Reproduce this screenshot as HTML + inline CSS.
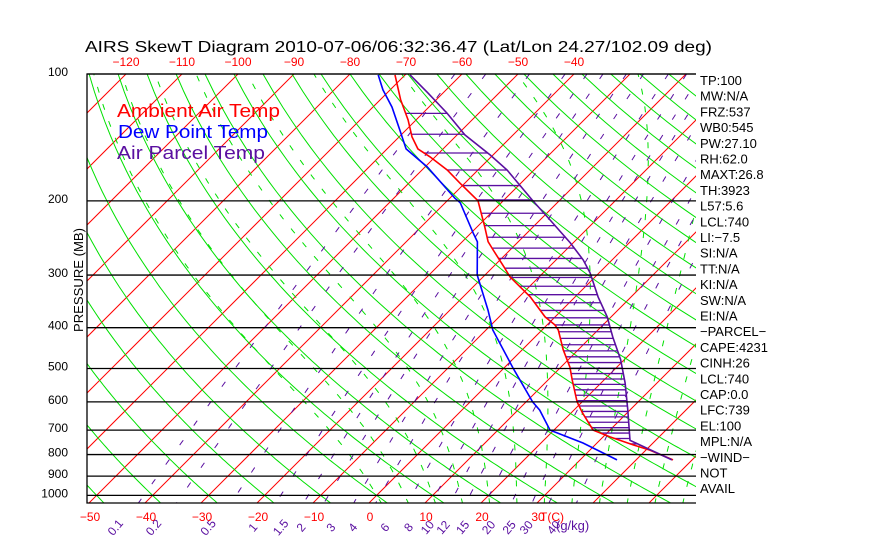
<!DOCTYPE html>
<html><head><meta charset="utf-8"><style>
html,body{margin:0;padding:0;background:#fff;}
svg{display:block;font-family:"Liberation Sans",sans-serif;}
</style></head><body>
<svg id="chart" width="870" height="560" viewBox="0 0 870 560" xmlns="http://www.w3.org/2000/svg">
<defs><clipPath id="plotclip"><rect x="87" y="74" width="609" height="429"/></clipPath></defs>
<rect width="870" height="560" fill="#fff"/>
<text x="85" y="52" font-size="16" textLength="627" lengthAdjust="spacingAndGlyphs" fill="#000">AIRS SkewT Diagram 2010-07-06/06:32:36.47 (Lat/Lon 24.27/102.09 deg)</text>
<g id="bg" clip-path="url(#plotclip)"></g>
<g id="hatch" clip-path="url(#plotclip)"></g>
<g id="profiles" clip-path="url(#plotclip)"></g>
<g id="axes"></g>
<text x="117" y="117" font-size="18" fill="#ff0000" textLength="163" lengthAdjust="spacingAndGlyphs">Ambient Air Temp</text>
<text x="118" y="138" font-size="18" fill="#0000ff" textLength="150" lengthAdjust="spacingAndGlyphs">Dew Point Temp</text>
<text x="117" y="159" font-size="18" fill="#5a0fa0" textLength="148" lengthAdjust="spacingAndGlyphs">Air Parcel Temp</text>
<text transform="translate(83,280) rotate(-90)" text-anchor="middle" font-size="13" textLength="104" lengthAdjust="spacingAndGlyphs">PRESSURE (MB)</text>
<g id="stats"></g>
</svg>
<script>
// ---- data ----
const pressureLevels = [100,200,300,400,500,600,700,800,900,1000];
const topTempTicks = [-120,-110,-100,-90,-80,-70,-60,-50,-40];
const bottomTempTicks = [-50,-40,-30,-20,-10,0,10,20,30];
const mixingRatios = [0.1,0.2,0.5,1,1.5,2,3,4,6,8,10,12,15,20,25,30,40];
const mixingLabels = ["0.1","0.2","0.5","1","1.5","2","3","4","6","8","10","12","15","20","25","30","40"];
const envP = [100.5,115,128.6,141,150.6,157.3,169,181.5,200,230.8,250,261.6,288.9,303,338,377,394,405,451,496,532,600,638,700,727,759,781,824];
const envT = [-71.8,-66.4,-61.4,-57.7,-54.5,-50.9,-45.5,-40.9,-34.5,-28.6,-25.4,-23.0,-17.7,-15.2,-8.0,-1.8,1.4,2.9,7.3,11.6,14.3,19.1,22.1,27.0,31.3,36.8,40.7,46.6];
const dewP = [100.5,109,119.8,135.8,150.6,166.2,197.1,202.2,238.5,250.1,299.9,363.3,405,498.5,600.4,627.6,700,751,824];
const dewT = [-74.8,-71.3,-66.6,-61.1,-56.6,-49.6,-39.1,-37.3,-29.6,-27.3,-21.4,-13.2,-8.8,1.6,11.2,13.9,19.3,27.5,36.6];
const parP = [100.5,110.9,123.8,139.5,155.7,169,199,222.1,251.7,276,296.5,338,377,421,476,541,627,740,824];
const parT = [-69.1,-62.7,-55.7,-48.6,-40.5,-34.8,-25,-18.2,-10.5,-5.2,-1.6,4.1,9.3,13.9,19.3,24.3,29.6,35.4,46.4];
const statLabels = ["TP:100","MW:N/A","FRZ:537","WB0:545","PW:27.10","RH:62.0","MAXT:26.8","TH:3923","L57:5.6","LCL:740","LI:\u22127.5","SI:N/A","TT:N/A","KI:N/A","SW:N/A","EI:N/A","\u2212PARCEL\u2212","CAPE:4231","CINH:26","LCL:740","CAP:0.0","LFC:739","EL:100","MPL:N/A","\u2212WIND\u2212","NOT","AVAIL"];

// ---- axes ----
const NS="http://www.w3.org/2000/svg";
const X0=369, YB=503, K=183, DX=5.6, LEFT=87, RIGHT=696, TOP=74;
function yOf(p){return TOP+K*Math.log(p/100);}
function xOf(t,p){const y=yOf(p);return X0+DX*t+(YB-y);}
function mk(tag,attrs,parent){const e=document.createElementNS(NS,tag);for(const k in attrs)e.setAttribute(k,attrs[k]);parent.appendChild(e);return e;}
function pathFrom(pts){return pts.map((q,i)=>(i?'L':'M')+q[0].toFixed(1)+','+q[1].toFixed(1)).join('');}
const bg=document.getElementById('bg'),axes=document.getElementById('axes'),prof=document.getElementById('profiles'),hatch=document.getElementById('hatch');

// isotherms
for(let t=-140;t<=70;t+=10){
  const l=mk('line',{x1:xOf(t,1050),y1:yOf(1050),x2:xOf(t,100),y2:yOf(100),stroke:'#ff0000','stroke-width':1},bg);
  
  
}
// dry adiabats
for(let th=143.15;th<=623.15;th+=10){
  const pts=[];
  for(let p=100;p<=1060;p+=10){pts.push([xOf(th*Math.pow(p/1000,0.286)-273.15,p),yOf(p)]);}
  const l=mk('path',{d:pathFrom(pts),stroke:'#00e000','stroke-width':1,fill:'none'},bg);
  
  
}
// moist adiabats
function es(tc){return 6.112*Math.exp(17.67*tc/(tc+243.5));}
const step=function(Tk,pk,dp){const tc=Tk-273.15;const e=es(tc);const rs=0.622*e/(pk-e);const Lv=2.5e6,Rd=287,cp=1004;
    const g=(Rd*Tk+Lv*rs)/(cp+Lv*Lv*rs*0.622/(Rd*Tk*Tk));return Tk+g*dp/pk;};
for(let t0=0;t0<=55;t0+=5){
  const pts=[];
  let TT=t0+273.15, pp=1000;
  let Td=step(TT,pp,50); pts.push([xOf(Td-273.15,1050),yOf(1050)]);
  while(pp>=100){pts.push([xOf(TT-273.15,pp),yOf(pp)]);TT=step(TT,pp,-5);pp-=5;}
  const l=mk('path',{d:pathFrom(pts),stroke:'#00e000','stroke-width':1,fill:'none','stroke-dasharray':'6,12'},bg);
  
  
}
// mixing ratio lines
function tdOf(w,p){const e=w*p/(622+w);const a=Math.log(e/6.112);return 243.5*a/(17.67-a);}
mixingRatios.forEach((w,i)=>{
  const pts=[];for(let p=100;p<=1050;p+=10)pts.push([xOf(tdOf(w,p),p),yOf(p)]);
  const l=mk('path',{d:pathFrom(pts),stroke:'#5a0fa0','stroke-width':1,fill:'none','stroke-dasharray':'6,18'},bg);
  
  
  const lx=xOf(tdOf(w,1050),1050)-19;
  const t=mk('text',{x:lx,y:530,'font-size':12,fill:'#5a0fa0','text-anchor':'middle',transform:'rotate(-50 '+lx+' 530)'},axes);
  t.textContent=mixingLabels[i];
  
  
});
const gk=mk('text',{x:556,y:530,'font-size':13,fill:'#5a0fa0'},axes);gk.textContent='(g/kg)';



// pressure lines & labels
pressureLevels.forEach(p=>{
  const y=yOf(p);
  const l=mk('line',{x1:LEFT,y1:y,x2:RIGHT,y2:y,stroke:'#000','stroke-width':1.3},axes);
  
  
  const t=mk('text',{x:68,y:y+2,'font-size':12,'text-anchor':'end'},axes);t.textContent=p;
  
  
});
const fr=mk('path',{d:`M${RIGHT},${TOP}H${LEFT}V${YB}H${RIGHT}`,stroke:'#000','stroke-width':1.3,fill:'none'},axes);


topTempTicks.forEach(t=>{
  const e=mk('text',{x:xOf(t,100),y:66,'font-size':12,fill:'#ff0000','text-anchor':'middle'},axes);
  e.textContent=t<0?'\u2212'+(-t):t;
  
  
});
bottomTempTicks.forEach(t=>{
  const e=mk('text',{x:X0+DX*t+1,y:521,'font-size':12,fill:'#ff0000','text-anchor':'middle'},axes);
  e.textContent=t<0?'\u2212'+(-t):t;
  
  
});
const tc=mk('text',{x:540,y:521,'font-size':12,fill:'#ff0000'},axes);tc.textContent='T(C)';



// profiles
function interp(P,T,p){for(let i=0;i<P.length-1;i++){if(p>=P[i]&&p<=P[i+1]){const f=Math.log(p/P[i])/Math.log(P[i+1]/P[i]);return T[i]+f*(T[i+1]-T[i]);}}return null;}
for(let p=124;p<=840;p+=Math.max(15,p*0.03)){
  const te=interp(envP,envT,p),tp=interp(parP,parT,p);
  if(te===null||tp===null||tp<=te)continue;
  const h=mk('line',{x1:xOf(te,p),y1:yOf(p),x2:xOf(tp,p),y2:yOf(p),stroke:'#5a0fa0','stroke-width':1.3},hatch);
  
  
}
function drawProfile(P,T,color,name){
  const pts=P.map((p,i)=>[xOf(T[i],p),yOf(p)]);
  const l=mk('path',{d:pathFrom(pts),stroke:color,'stroke-width':1.6,fill:'none'},prof);
  
  
}
drawProfile(dewP,dewT,'#0000ff','dew-point-line');
drawProfile(envP,envT,'#ff0000','ambient-temp-line');
drawProfile(parP,parT,'#5a0fa0','parcel-temp-line');

// stats panel
const st=document.getElementById('stats');
statLabels.forEach((s,i)=>{
  const e=mk('text',{x:700,y:85+i*15.7,'font-size':13},st);e.textContent=s;
  
  
});
</script>
</body></html>
